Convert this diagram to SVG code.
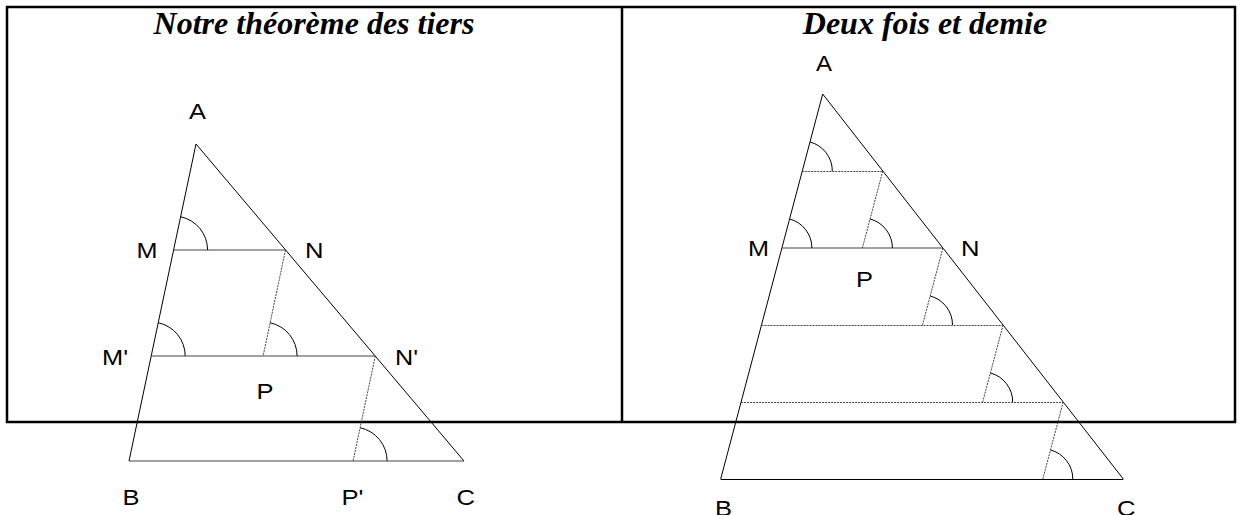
<svg xmlns="http://www.w3.org/2000/svg" width="1243" height="515" viewBox="0 0 1243 515">
<style>
.frame{fill:none;stroke:#000;stroke-width:2.5}
.ln{fill:none;stroke:#000;stroke-width:1}
.hz{fill:none;stroke:#444;stroke-width:1}
.dot{fill:none;stroke:#444;stroke-width:1;stroke-dasharray:2 1}
.arc{fill:none;stroke:#000;stroke-width:1}
.title{font-family:"Liberation Serif","Times New Roman",serif;font-weight:bold;font-style:italic;font-size:32px;fill:#000;text-anchor:middle}
.lbl{font-family:"Liberation Sans",Arial,sans-serif;font-size:22px;fill:#000}
</style>
<rect width="1243" height="515" fill="#fff"/>
<g id="frame">
<rect class="frame" x="7" y="7" width="1228" height="415"/>
<line class="frame" x1="622" y1="7" x2="622" y2="422"/>
</g>
<g id="titles">
<text class="title" x="314" y="34">Notre théorème des tiers</text>
<text class="title" x="925" y="34">Deux fois et demie</text>
</g>
<g id="left-triangle">
<polyline class="ln" points="129,461 196,144 464,461"/>
<line class="hz" x1="129" y1="461" x2="464" y2="461"/>
<line class="hz" x1="173.6" y1="250" x2="285.5" y2="250"/>
<line class="hz" x1="151.2" y1="356" x2="375.3" y2="356"/>
<line class="dot" x1="285.5" y1="250" x2="263.1" y2="356"/>
<line class="dot" x1="375.3" y1="356" x2="353.1" y2="461"/>
<path class="arc" d="M207.6,250 A34,34 0 0 0 180.6,216.75"/>
<path class="arc" d="M185.2,356 A34,34 0 0 0 158.2,322.75"/>
<path class="arc" d="M297.1,356 A34,34 0 0 0 270.1,322.75"/>
<path class="arc" d="M387.1,461 A34,34 0 0 0 360.1,427.75"/>
</g>
<g id="left-labels">
<text class="lbl" x="189" y="119" textLength="17" lengthAdjust="spacingAndGlyphs">A</text>
<text class="lbl" x="136.5" y="258" textLength="21" lengthAdjust="spacingAndGlyphs">M</text>
<text class="lbl" x="305" y="258" textLength="18.5" lengthAdjust="spacingAndGlyphs">N</text>
<text class="lbl" x="102" y="365" textLength="26" lengthAdjust="spacingAndGlyphs">M'</text>
<text class="lbl" x="395" y="365" textLength="23" lengthAdjust="spacingAndGlyphs">N'</text>
<text class="lbl" x="256.5" y="399" textLength="17" lengthAdjust="spacingAndGlyphs">P</text>
<text class="lbl" x="122.5" y="505" textLength="17" lengthAdjust="spacingAndGlyphs">B</text>
<text class="lbl" x="341.5" y="505" textLength="22" lengthAdjust="spacingAndGlyphs">P'</text>
<text class="lbl" x="456.5" y="505" textLength="18.5" lengthAdjust="spacingAndGlyphs">C</text>
</g>
<g id="right-triangle">
<polyline class="ln" points="720.7,479 822.7,94 1123.3,479"/>
<line class="ln" x1="720.7" y1="479.5" x2="1123.3" y2="479.5"/>
<line class="dot" x1="802.3" y1="171.5" x2="882.8" y2="171.5"/>
<line class="hz" x1="781.9" y1="248" x2="942.9" y2="248"/>
<line class="dot" x1="761.5" y1="325.5" x2="1003.1" y2="325.5"/>
<line class="dot" x1="741.1" y1="402.5" x2="1063.2" y2="402.5"/>
<line class="dot" x1="882.8" y1="171" x2="862.4" y2="248"/>
<line class="dot" x1="942.9" y1="248" x2="922.5" y2="325"/>
<line class="dot" x1="1003.1" y1="325" x2="982.7" y2="402"/>
<line class="dot" x1="1063.2" y1="402" x2="1042.8" y2="479"/>
<path class="arc" d="M832.3,171 A30,30 0 0 0 810,142"/>
<path class="arc" d="M811.9,248 A30,30 0 0 0 789.6,219"/>
<path class="arc" d="M892.4,248 A30,30 0 0 0 870.1,219"/>
<path class="arc" d="M952.5,325 A30,30 0 0 0 930.2,296"/>
<path class="arc" d="M1012.7,402 A30,30 0 0 0 990.4,373"/>
<path class="arc" d="M1072.8,479 A30,30 0 0 0 1050.5,450"/>
</g>
<g id="right-labels">
<text class="lbl" x="816" y="71" textLength="16" lengthAdjust="spacingAndGlyphs">A</text>
<text class="lbl" x="748" y="256" textLength="21" lengthAdjust="spacingAndGlyphs">M</text>
<text class="lbl" x="961" y="256" textLength="18.5" lengthAdjust="spacingAndGlyphs">N</text>
<text class="lbl" x="856" y="287" textLength="17" lengthAdjust="spacingAndGlyphs">P</text>
<text class="lbl" x="715" y="516" textLength="17" lengthAdjust="spacingAndGlyphs">B</text>
<text class="lbl" x="1117" y="516" textLength="18.5" lengthAdjust="spacingAndGlyphs">C</text>
</g>
</svg>
